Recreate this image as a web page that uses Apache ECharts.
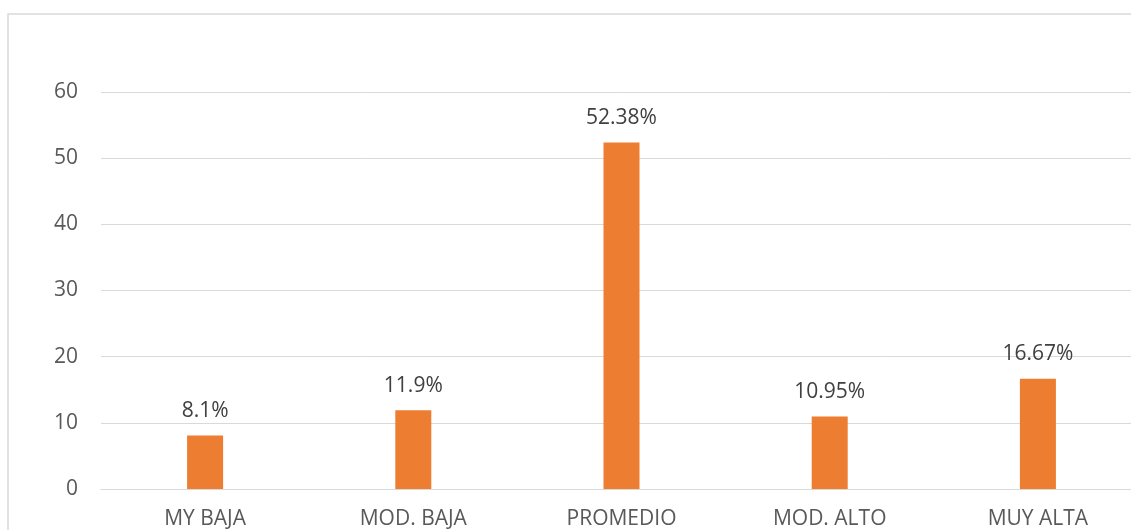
<!DOCTYPE html>
<html>
<head>
<meta charset="utf-8">
<script src="https://cdn.jsdelivr.net/npm/echarts@6/dist/echarts.min.js"></script>
<style>html,body{margin:0;padding:0;background:#fff;overflow:hidden;width:1131px;height:530px}#c{width:1142px;height:530px}</style>
</head>
<body>
<div id="c"></div>
<script>
const categories = ['MY BAJA', 'MOD. BAJA', 'PROMEDIO', 'MOD. ALTO', 'MUY ALTA'];
const values = [8.1, 11.9, 52.38, 10.95, 16.67];
const labels = ['8.1%', '11.9%', '52.38%', '10.95%', '16.67%'];
const yTicks = [0, 10, 20, 30, 40, 50, 60];

const chart = echarts.init(document.getElementById('c'));
const font = '"Open Sans", "Liberation Sans", sans-serif';
chart.setOption({
  animation: false,
  backgroundColor: '#fff',
  graphic: [{
    type: 'rect', z: -1,
    shape: { x: 8, y: 14, width: 1300, height: 700 },
    style: { fill: 'none', stroke: '#d9d9d9', lineWidth: 1.5 }
  }],
  grid: { left: 101, top: 92, right: 0, bottom: 41 },
  xAxis: {
    type: 'category',
    data: categories,
    axisLine: { show: true, lineStyle: { color: '#d9d9d9', width: 1 } },
    axisTick: { show: false },
    axisLabel: { color: '#595959', fontSize: 21, fontFamily: font, margin: 20 }
  },
  yAxis: {
    type: 'value',
    min: yTicks[0], max: yTicks[yTicks.length - 1], interval: 10,
    axisLine: { show: false },
    axisTick: { show: false },
    splitLine: { lineStyle: { color: '#d9d9d9', width: 1 } },
    axisLabel: { color: '#595959', fontSize: 21, fontFamily: font, margin: 23 }
  },
  series: [{
    type: 'bar',
    data: values,
    barWidth: 36,
    itemStyle: { color: '#ED7D31' },
    label: {
      show: true, position: 'top', distance: 14,
      color: '#404040', fontSize: 21, fontFamily: font,
      formatter: p => labels[p.dataIndex]
    }
  }]
});
</script>
</body>
</html>
